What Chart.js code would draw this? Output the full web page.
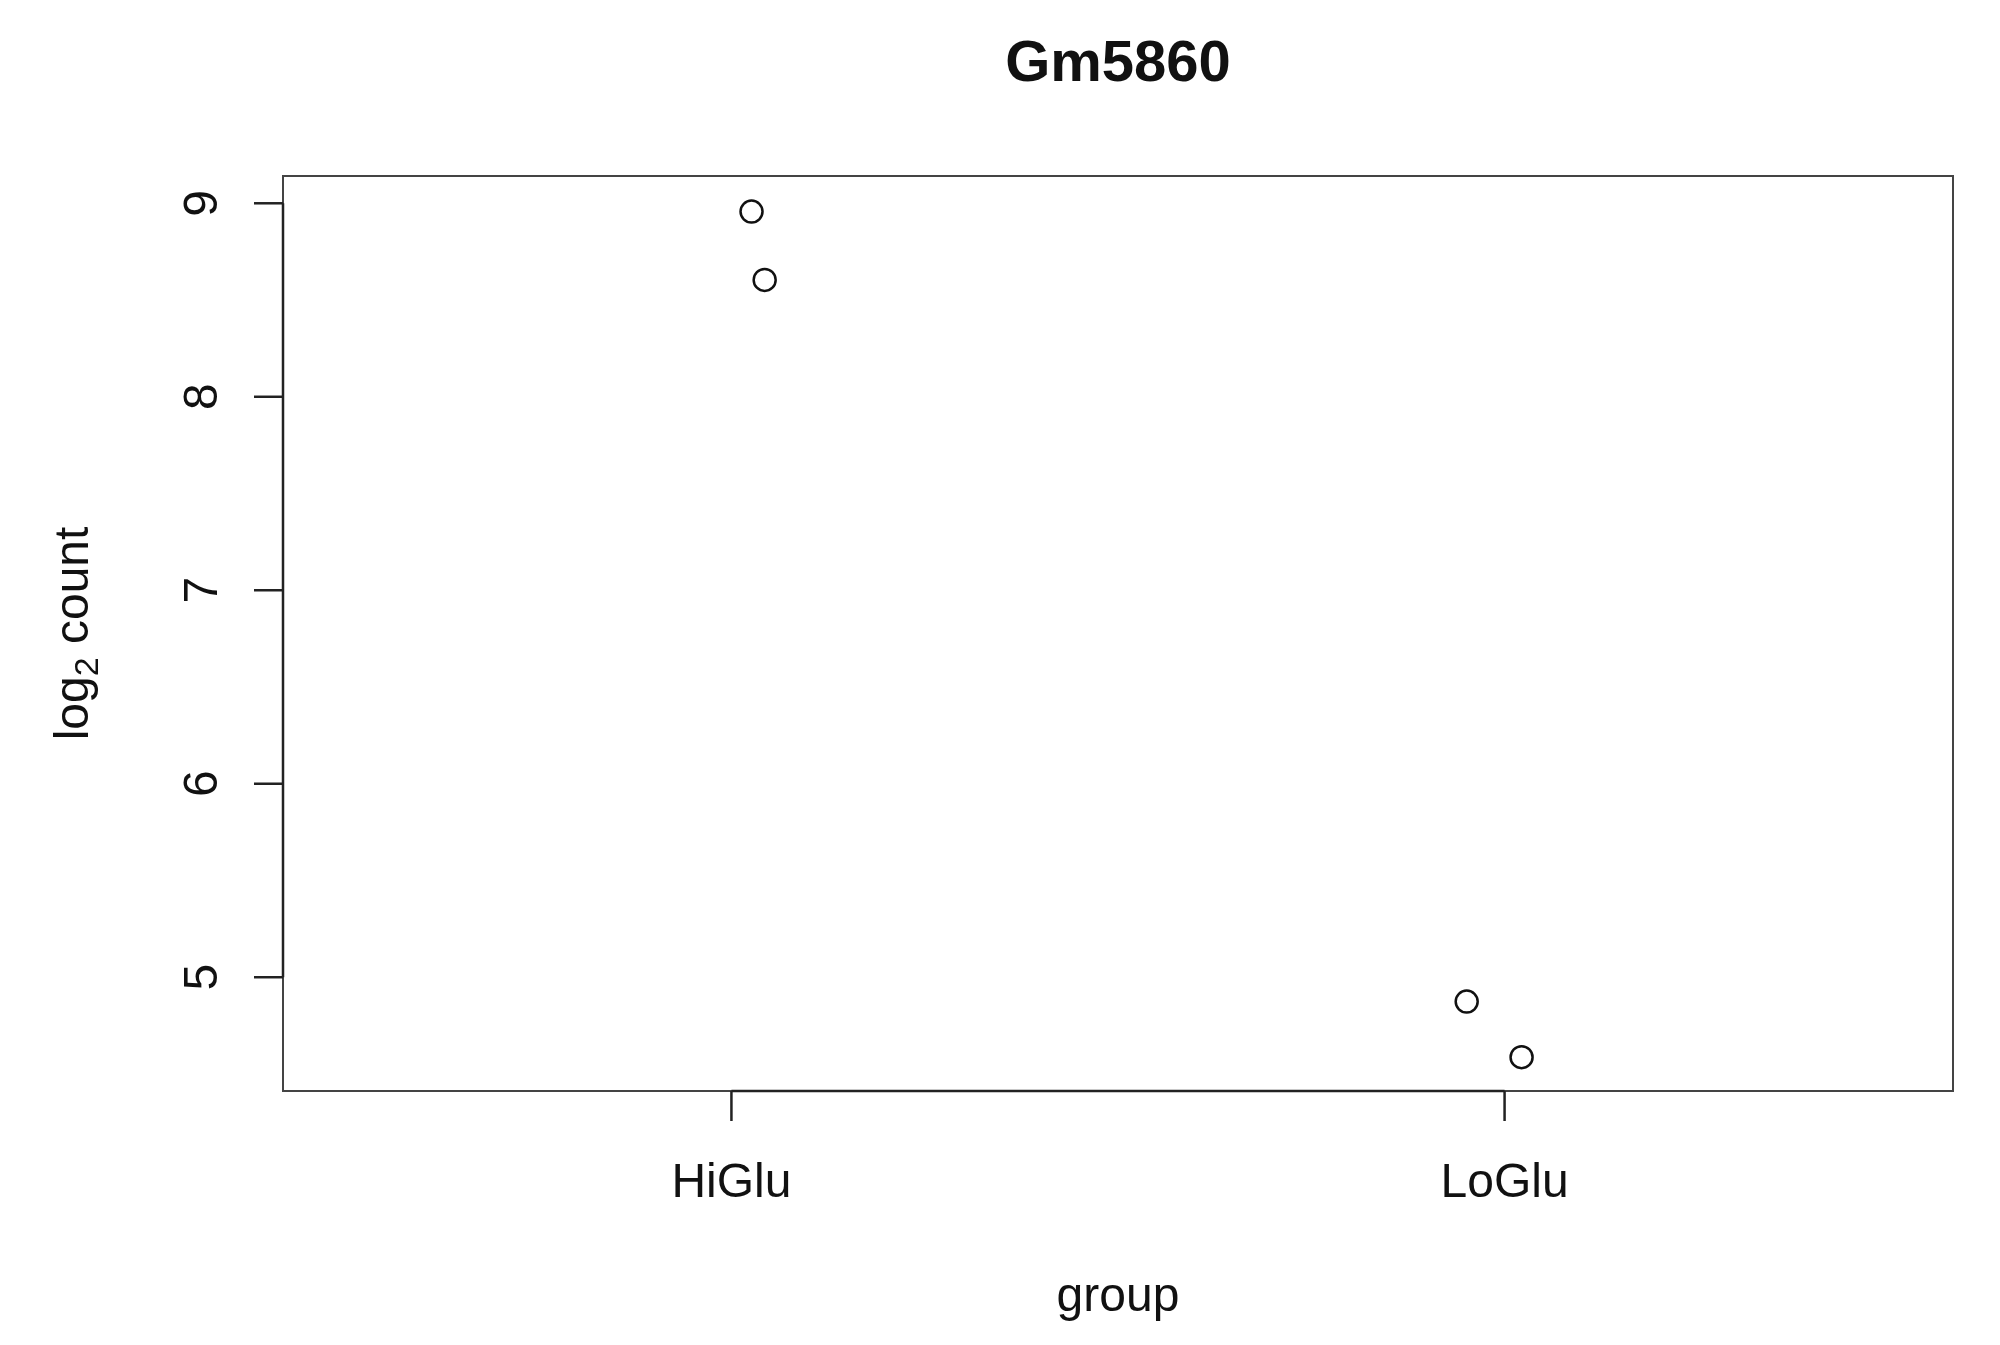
<!DOCTYPE html>
<html>
<head>
<meta charset="utf-8">
<title>Gm5860</title>
<script src="https://cdn.jsdelivr.net/npm/chart.js@4/dist/chart.umd.min.js"></script>
<style>
  html, body { margin: 0; padding: 0; background: #fff; }
  #wrap { width: 2000px; height: 1345px; }
</style>
</head>
<body>
<div id="wrap"><canvas id="grafico" width="2000" height="1345"></canvas></div>
<script>
// dados (stripchart, log2 count por grupo)
const titulo     = "Gm5860";
const grupos     = ["HiGlu", "LoGlu"];
const hiGluX     = [1.026, 1.043];
const hiGluY     = [8.957, 8.604];
const loGluX     = [1.951, 2.022];
const loGluY     = [4.874, 4.587];
const yTicks     = [5, 6, 7, 8, 9];
const xLabel     = "group";

const FONTE = "'Liberation Sans', Arial, Helvetica, sans-serif";
const COR   = "#111";

function pontos(xs, ys) {
  return xs.map((x, i) => ({ x, y: ys[i] }));
}

// desenha caixa, eixos, ticks e textos no estilo do R base
const eixosR = {
  id: "eixosR",
  afterDraw(chart) {
    const { ctx, chartArea: a, scales } = chart;
    const sx = scales.x, sy = scales.y;
    ctx.save();

    // caixa
    ctx.strokeStyle = "#444";
    ctx.lineWidth = 2;
    ctx.strokeRect(a.left, a.top, a.right - a.left, a.bottom - a.top);

    ctx.strokeStyle = "#222";
    ctx.lineWidth = 2.5;
    ctx.fillStyle = COR;

    // eixo y: linha de 5 a 9 + ticks + rotulos girados
    const y0 = sy.getPixelForValue(yTicks[0]);
    const y1 = sy.getPixelForValue(yTicks[yTicks.length - 1]);
    ctx.beginPath();
    ctx.moveTo(a.left, y0); ctx.lineTo(a.left, y1);
    ctx.stroke();
    ctx.font = "48px " + FONTE;
    yTicks.forEach(v => {
      const py = sy.getPixelForValue(v);
      ctx.beginPath();
      ctx.moveTo(a.left - 29, py); ctx.lineTo(a.left, py);
      ctx.stroke();
      ctx.save();
      ctx.translate(217, py);
      ctx.rotate(-Math.PI / 2);
      ctx.textAlign = "center";
      ctx.textBaseline = "alphabetic";
      ctx.fillText(String(v), 0, 0);
      ctx.restore();
    });

    // eixo x: linha entre as categorias + ticks + rotulos
    const x0 = sx.getPixelForValue(1);
    const x1 = sx.getPixelForValue(grupos.length);
    ctx.beginPath();
    ctx.moveTo(x0, a.bottom); ctx.lineTo(x1, a.bottom);
    ctx.stroke();
    grupos.forEach((g, i) => {
      const px = sx.getPixelForValue(i + 1);
      ctx.beginPath();
      ctx.moveTo(px, a.bottom); ctx.lineTo(px, a.bottom + 30);
      ctx.stroke();
      ctx.textAlign = "center";
      ctx.textBaseline = "alphabetic";
      ctx.fillText(g, px, 1197);
    });

    // titulo do eixo x
    const cx = (a.left + a.right) / 2;
    ctx.fillText(xLabel, cx, 1311);

    // titulo do eixo y: log2 count (com subscrito)
    const cy = (a.top + a.bottom) / 2;
    ctx.save();
    ctx.translate(88, cy);
    ctx.rotate(-Math.PI / 2);
    ctx.textAlign = "left";
    const fBig = "48px " + FONTE, fSub = "34px " + FONTE;
    ctx.font = fBig; const wLog = ctx.measureText("log").width;
    ctx.font = fSub; const wSub = ctx.measureText("2").width;
    ctx.font = fBig; const wCnt = ctx.measureText(" count").width;
    let start = -(wLog + wSub + wCnt) / 2;
    ctx.font = fBig; ctx.fillText("log", start, 0);
    ctx.font = fSub; ctx.fillText("2", start + wLog, 10);
    ctx.font = fBig; ctx.fillText(" count", start + wLog + wSub, 0);
    ctx.restore();

    // titulo principal
    ctx.font = "bold 58px " + FONTE;
    ctx.textAlign = "center";
    ctx.fillText(titulo, cx, 81);

    ctx.restore();
  }
};

const pontoEstilo = {
  pointStyle: "circle",
  pointRadius: 11,
  pointBorderWidth: 2.5,
  pointBorderColor: COR,
  pointBackgroundColor: "rgba(0,0,0,0)",
  showLine: false
};

new Chart(document.getElementById("grafico"), {
  type: "scatter",
  data: {
    datasets: [
      Object.assign({ label: grupos[0], data: pontos(hiGluX, hiGluY) }, pontoEstilo),
      Object.assign({ label: grupos[1], data: pontos(loGluX, loGluY) }, pontoEstilo)
    ]
  },
  options: {
    responsive: false,
    animation: false,
    devicePixelRatio: 1,
    layout: { padding: { left: 283, right: 47, top: 176, bottom: 254 } },
    plugins: { legend: { display: false }, tooltip: { enabled: false } },
    scales: {
      x: { type: "linear", min: 0.42, max: 2.58, display: false },
      y: { type: "linear", min: 4.412, max: 9.141, display: false }
    }
  },
  plugins: [eixosR]
});
</script>
</body>
</html>
